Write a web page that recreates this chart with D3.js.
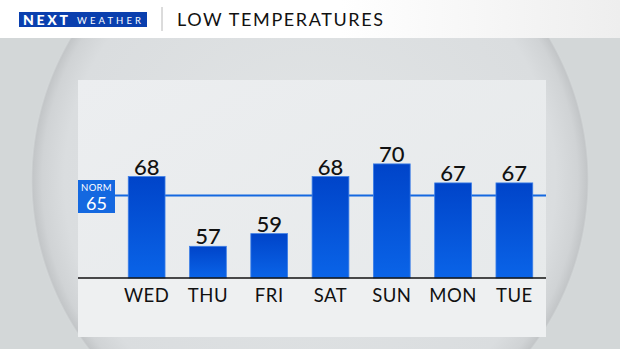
<!DOCTYPE html>
<html>
<head>
    <meta charset="utf-8" />
    <title>Low Temperatures</title>
    <script src="https://d3js.org/d3.v7.min.js"></script>
    <style>
        html, body { margin: 0; padding: 0; overflow: hidden; }
        svg { display: block; font-family: "Lato", "Noto Sans", sans-serif; }
    </style>
</head>
<body>

<svg id="svg"></svg>

<script>

// chart data
let days = ["WED", "THU", "FRI", "SAT", "SUN", "MON", "TUE"];
let lows = [68, 57, 59, 68, 70, 67, 67];
let normal = 65;

let W = 620;
let H = 349;

let svg = d3.select("#svg")
    .attr("width", W)
    .attr("height", H);

let defs = svg.append("defs");

// background sphere gradient
let sphere = defs.append("radialGradient").attr("id", "sphere");
sphere.append("stop").attr("offset", "0%").attr("stop-color", "#e2e5e6");
sphere.append("stop").attr("offset", "88%").attr("stop-color", "#dadddf");
sphere.append("stop").attr("offset", "96%").attr("stop-color", "#d0d3d5");
sphere.append("stop").attr("offset", "99.3%").attr("stop-color", "#c3c6c8");
sphere.append("stop").attr("offset", "100%").attr("stop-color", "#d6dadb");

let header = defs.append("linearGradient").attr("id", "header");
header.append("stop").attr("offset", "0%").attr("stop-color", "#ffffff");
header.append("stop").attr("offset", "55%").attr("stop-color", "#ffffff");
header.append("stop").attr("offset", "100%").attr("stop-color", "#eeeeee");

let panel = defs.append("linearGradient").attr("id", "panel")
    .attr("x1", 0).attr("y1", 0).attr("x2", 1).attr("y2", 1);
panel.append("stop").attr("offset", "0%").attr("stop-color", "#eceef0");
panel.append("stop").attr("offset", "100%").attr("stop-color", "#e6e9ea");

let barGrad = defs.append("linearGradient").attr("id", "bar")
    .attr("x1", 0).attr("y1", 0).attr("x2", 0).attr("y2", 1);
barGrad.append("stop").attr("offset", "0%").attr("stop-color", "#0044c9");
barGrad.append("stop").attr("offset", "100%").attr("stop-color", "#0a64e8");

// background
svg.append("rect")
    .attr("width", W).attr("height", H)
    .attr("fill", "#d3d7d8");

svg.append("circle")
    .attr("cx", 310).attr("cy", 180).attr("r", 279)
    .attr("fill", "url(#sphere)");

// header bar
svg.append("rect")
    .attr("width", W).attr("height", 38)
    .attr("fill", "url(#header)");

svg.append("rect")
    .attr("x", 19).attr("y", 12).attr("width", 128).attr("height", 15)
    .attr("fill", "#0a3fae");

svg.append("text")
    .attr("x", 23).attr("y", 25)
    .attr("fill", "#fff")
    .attr("font-size", 14)
    .attr("font-weight", 900)
    .attr("textLength", 45)
    .text("NEXT");

svg.append("text")
    .attr("x", 77).attr("y", 23.5)
    .attr("fill", "#fff")
    .attr("font-size", 9.5)
    .attr("textLength", 64)
    .text("WEATHER");

svg.append("line")
    .attr("x1", 162).attr("x2", 162)
    .attr("y1", 7).attr("y2", 31)
    .attr("stroke", "#b8b8b8")
    .attr("stroke-width", 1);

svg.append("text")
    .attr("x", 177).attr("y", 26)
    .attr("fill", "#111")
    .attr("font-size", 18)
    .attr("textLength", 206)
    .text("LOW TEMPERATURES");

// chart panel
let panelX = 78, panelY = 80, panelW = 468, panelH = 257;

svg.append("rect")
    .attr("x", panelX).attr("y", panelY)
    .attr("width", panelW).attr("height", panelH)
    .attr("fill", "url(#panel)");

svg.append("rect")
    .attr("x", panelX).attr("y", 278)
    .attr("width", panelW).attr("height", panelY + panelH - 278)
    .attr("fill", "#eef0f1");

let x = d3.scaleBand()
    .domain(days)
    .range([116, 545])
    .paddingInner(0.4)
    .paddingOuter(0.2);

let y = d3.scaleLinear()
    .domain([52, 83])
    .range([278, 81.5]);

// normal line
svg.append("line")
    .attr("x1", panelX).attr("x2", panelX + panelW)
    .attr("y1", y(normal)).attr("y2", y(normal))
    .attr("stroke", "#1468e0")
    .attr("stroke-width", 2);

// bars
svg.selectAll(".bar")
    .data(lows)
    .enter()
    .append("rect")
    .attr("class", "bar")
    .attr("x", (d, i) => x(days[i]))
    .attr("y", d => y(d))
    .attr("width", x.bandwidth())
    .attr("height", d => y(52) - y(d))
    .attr("fill", "url(#bar)")
    .attr("stroke", "#3d7fe6")
    .attr("stroke-width", 0.8);

// value labels
svg.selectAll(".val")
    .data(lows)
    .enter()
    .append("text")
    .attr("class", "val")
    .attr("x", (d, i) => x(days[i]) + x.bandwidth() / 2)
    .attr("y", d => y(d) - 2)
    .attr("text-anchor", "middle")
    .attr("font-size", 22)
    .attr("font-weight", 500)
    .attr("fill", "#111")
    .text(d => d);

// baseline
svg.append("line")
    .attr("x1", panelX).attr("x2", panelX + panelW)
    .attr("y1", 278).attr("y2", 278)
    .attr("stroke", "#111")
    .attr("stroke-width", 1.6);

// day labels
svg.selectAll(".day")
    .data(days)
    .enter()
    .append("text")
    .attr("class", "day")
    .attr("x", d => x(d) + x.bandwidth() / 2)
    .attr("y", 302)
    .attr("text-anchor", "middle")
    .attr("font-size", 18.5)
    .attr("letter-spacing", 0.5)
    .attr("fill", "#111")
    .text(d => d);

// normal tag
svg.append("rect")
    .attr("x", panelX).attr("y", 180)
    .attr("width", 37).attr("height", 33)
    .attr("fill", "#1468e0");

svg.append("text")
    .attr("x", panelX + 18.5).attr("y", 191)
    .attr("text-anchor", "middle")
    .attr("font-size", 9.5)
    .attr("letter-spacing", 0.3)
    .attr("fill", "#fff")
    .text("NORM");

svg.append("text")
    .attr("x", panelX + 18.5).attr("y", 209.5)
    .attr("text-anchor", "middle")
    .attr("font-size", 18)
    .attr("fill", "#fff")
    .text(normal);

</script>

</body>
</html>
